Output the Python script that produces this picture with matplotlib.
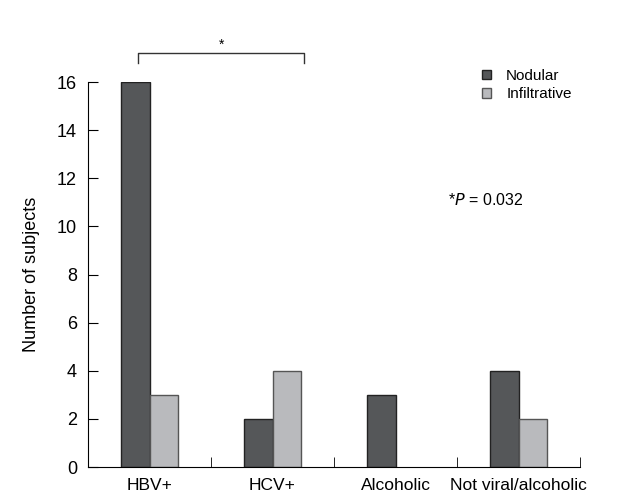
import numpy as np
import matplotlib
matplotlib.use('Agg')
from matplotlib import pyplot as plt
from matplotlib.patches import Patch

plt.rcParams['font.family'] = ['Liberation Sans Narrow', 'Liberation Sans', 'DejaVu Sans']

# data
categories = ['HBV+', 'HCV+', 'Alcoholic', 'Not viral/alcoholic']
nodular = [16, 2, 3, 4]
infiltrative = [3, 4, 0, 2]
series_names = ['Nodular', 'Infiltrative']
p_text = '*$P$ = 0.032'

dark = '#555759'
light = '#b9babd'

fig = plt.figure(figsize=(6.17, 4.98), dpi=100)
ax = fig.add_axes([88 / 617, 1 - 467 / 498, 492 / 617, 385 / 498])

x = np.arange(len(categories))
w = 0.235
# no outline for empty bars
lw_n = [1.0 if v > 0 else 0 for v in nodular]
lw_i = [1.0 if v > 0 else 0 for v in infiltrative]
ax.bar(x - w / 2, nodular, w, color=dark, edgecolor='#222222', linewidth=lw_n)
ax.bar(x + w / 2, infiltrative, w, color=light, edgecolor='#555555', linewidth=lw_i)

ax.set_xlim(-0.5, len(categories) - 0.5)
ax.set_ylim(0, 16)
ax.set_yticks(np.arange(0, 17, 2))
ax.tick_params(axis='y', direction='in', length=7, labelsize=13, pad=8)
ax.set_xticks(x)
ax.set_xticklabels(categories, fontsize=12.5)
ax.tick_params(axis='x', which='major', length=0, pad=8)
ax.set_xticks(np.arange(0.5, len(categories), 1), minor=True)
ax.tick_params(axis='x', which='minor', direction='in', length=7)
for s in ['top', 'right']:
    ax.spines[s].set_visible(False)
ax.set_ylabel('Number of subjects', fontsize=13, labelpad=12)

# significance bracket
bx0, bx1 = -0.09, 1.26
ax.plot([bx0, bx0, bx1, bx1], [16.8, 17.2, 17.2, 16.8], color='#333333', lw=1, clip_on=False)
ax.text((bx0 + bx1) / 2, 17.25, '*', ha='center', va='bottom', fontsize=10)

ax.text(2.43, 11.1, p_text, ha='left', va='center', fontsize=11.5)

handles = [Patch(facecolor=dark, edgecolor='#222222'), Patch(facecolor=light, edgecolor='#555555')]
fig.legend(handles, series_names, loc='upper left', bbox_to_anchor=(468 / 617, 1 - 55 / 498),
           frameon=False, fontsize=11, handlelength=0.6, handleheight=0.6,
           handletextpad=1.0, labelspacing=0.3)

fig.savefig('out.png', dpi=100)
